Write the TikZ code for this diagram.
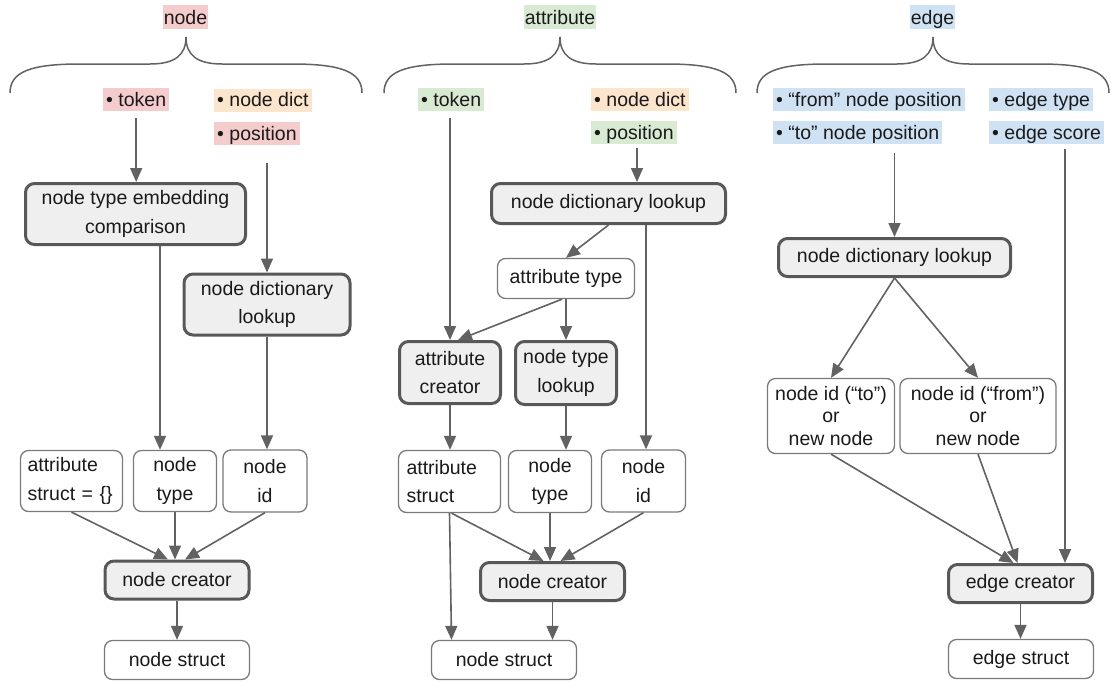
\documentclass[tikz,border=0pt]{standalone}
\usepackage{fontspec}
\setmainfont{Liberation Sans}
\usetikzlibrary{arrows.meta}
\definecolor{linegray}{HTML}{626262}
\definecolor{thinborder}{HTML}{7A7A7A}
\definecolor{boldborder}{HTML}{585858}
\definecolor{boxfill}{HTML}{EFEFEF}
\definecolor{inkblack}{HTML}{1A1A1A}
\definecolor{hlpink}{HTML}{F4CCCC}
\definecolor{hlorange}{HTML}{FCE5CD}
\definecolor{hlgreen}{HTML}{D9EAD3}
\definecolor{hlblue}{HTML}{CFE2F3}
\tikzset{
  title/.style={fill=#1, inner xsep=1pt, inner ysep=2pt, text height=17pt, text depth=3pt},
  tag/.style={fill=#1, anchor=west, inner xsep=3pt, inner ysep=2pt, text height=16pt, text depth=3pt},
  plainbox/.style={draw=thinborder, line width=1.3pt, rounded corners=8pt, fill=white,
    inner sep=0pt, align=center},
  boldbox/.style={draw=boldborder, line width=3pt, rounded corners=9pt, fill=boxfill,
    inner sep=0pt, align=center},
  sz/.style 2 args={minimum width=#1pt, minimum height=#2pt},
  conn/.style={draw=linegray, line width=1.6pt, -{Triangle[length=14pt,width=12pt]}},
  threeline/.style={font=\fontsize{19.5}{22.5}\selectfont},
  curlybrace/.pic={
    \draw[linegray, line width=1.5pt]
      (-176,56) .. controls (-176,35) and (-156,27) .. (-106,27) -- (-36,27)
      .. controls (-11,27) and (0,18) .. (0,0)
      .. controls (0,18) and (11,27) .. (36,27) -- (106,27)
      .. controls (156,27) and (176,35) .. (176,56);
  }
}
\begin{document}
\begin{tikzpicture}[x=1pt, y=-1pt, font=\fontsize{19.5}{28.5}\selectfont, text=inkblack]
\useasboundingbox (0,0) rectangle (1111,681);

% ---------- node column ----------
\node[title=hlpink] (t1) at (185.5,17) {node};
\pic at (186,37) {curlybrace};
\node[tag=hlpink]   (tok1)  at (103,99.5)  {• token};
\node[tag=hlorange] (dict1) at (214,100)   {• node dict};
\node[tag=hlpink]   (pos1)  at (214,133.5) {• position};

\node[boldbox, sz={220}{61}] (emb1) at (135.5,214) {node type embedding\\comparison};
\node[boldbox, sz={166}{61}] (ndl1) at (267,304.5) {node dictionary\\lookup};
\node[plainbox, sz={102}{61}, align=left, text width=88pt] (attr1) at (71.5,481) {attribute\\struct = \{\}};
\node[plainbox, sz={83}{61}] (type1) at (175,481) {node\\type};
\node[plainbox, sz={84}{62}] (id1) at (265,481) {node\\id};
\node[boldbox, sz={144}{38}] (cre1) at (177,580) {node creator};
\node[plainbox, sz={145}{39}] (str1) at (177,660) {node struct};

\coordinate (k1) at (160,0);
\draw[conn, shorten <=7pt] (tok1.south) -- (tok1.south |- emb1.north);
\draw[conn, shorten <=18pt] (pos1.south -| ndl1.north) -- (ndl1.north);
\draw[conn] (emb1.south -| k1) -- (type1.north -| k1);
\draw[conn] (ndl1.south) -- (ndl1.south |- id1.north);
\draw[conn] (attr1.south) -- ([xshift=-9pt]cre1.north);
\draw[conn] (type1.south) -- (type1.south |- cre1.north);
\draw[conn] (id1.south) -- ([xshift=8pt]cre1.north);
\draw[conn] (cre1.south) -- (cre1.south |- str1.north);

% ---------- attribute column ----------
\node[title=hlgreen] (t2) at (560,17) {attribute};
\pic at (560,37) {curlybrace};
\node[tag=hlgreen]  (tok2)  at (418,99.5)  {• token};
\node[tag=hlorange] (dict2) at (591,99.5)  {• node dict};
\node[tag=hlgreen]  (pos2)  at (591,132.5) {• position};

\node[boldbox, sz={234}{40}] (ndl2) at (608.5,203.5) {node dictionary lookup};
\node[plainbox, sz={137}{40}] (atype2) at (566,278.5) {attribute type};
\node[boldbox, sz={101}{62}] (acre2) at (450,372.5) {attribute\\creator};
\node[boldbox, sz={101}{63}] (ntl2) at (566,373) {node type\\lookup};
\node[plainbox, sz={102}{62}, align=left, text width=86pt] (astr2) at (449.5,481.5) {attribute\\struct};
\node[plainbox, sz={83}{62}] (ntype2) at (550,481.5) {node\\type};
\node[plainbox, sz={84}{62}] (nid2) at (643.5,481) {node\\id};
\node[boldbox, sz={144}{38}] (ncre2) at (552.5,581.5) {node creator};
\node[plainbox, sz={145}{39}] (nstr2) at (504,660) {node struct};

\coordinate (k2) at (637,0);
\coordinate (k3) at (646,0);
\draw[conn, shorten <=7pt] (tok2.south -| acre2.north) -- (acre2.north);
\draw[conn, shorten <=4pt] (pos2.south -| k2) -- (ndl2.north -| k2);
\draw[conn] (ndl2.south) -- (atype2.north);
\draw[conn] (ndl2.south -| k3) -- (nid2.north -| k3);
\draw[conn] (atype2.south) -- (atype2.south |- ntl2.north);
\draw[conn] ([xshift=-4pt]atype2.south) -- ([xshift=8pt]acre2.north);
\draw[conn] (acre2.south) -- (acre2.south |- astr2.north);
\draw[conn] (ntl2.south) -- (ntl2.south |- ntype2.north);
\draw[conn] (astr2.south) -- ([xshift=2pt]astr2.south |- nstr2.north);
\draw[conn] ([xshift=2pt]astr2.south) -- ([xshift=-9pt]ncre2.north);
\draw[conn] (ntype2.south) -- (ntype2.south |- ncre2.north);
\draw[conn] (nid2.south) -- ([xshift=8pt]ncre2.north);
\draw[conn] (ncre2.south) -- (ncre2.south |- nstr2.north);

% ---------- edge column ----------
\node[title=hlblue] (t3) at (932.5,17) {edge};
\pic at (933,37) {curlybrace};
\node[tag=hlblue] (from3)   at (773,99.5)  {• “from” node position};
\node[tag=hlblue] (to3)     at (773,132.5) {• “to” node position};
\node[tag=hlblue] (etype3)  at (989,99.5)  {• edge type};
\node[tag=hlblue] (escore3) at (989,132.5) {• edge score};

\node[boldbox, sz={232}{38}] (ndl3) at (894.5,257.5) {node dictionary lookup};
\node[plainbox, sz={127}{75}, threeline] (idto3) at (831,416) {node id (“to”)\\or\\new node};
\node[plainbox, sz={156}{75}, threeline] (idfr3) at (978,416) {node id (“from”)\\or\\new node};
\node[boldbox, sz={144}{38}] (ecre3) at (1020.5,583.5) {edge creator};
\node[plainbox, sz={145}{39}] (estr3) at (1021,659) {edge struct};

\coordinate (k4) at (1065,0);
\draw[conn, shorten <=9pt] (to3.south -| ndl3.north) -- (ndl3.north);
\draw[conn, shorten <=5pt] (escore3.south -| k4) -- (ecre3.north -| k4);
\draw[conn] (ndl3.south) -- (idto3.north);
\draw[conn] (ndl3.south) -- (idfr3.north);
\draw[conn] (idto3.south) -- ([xshift=-7pt]ecre3.north);
\draw[conn] (idfr3.south) -- ([xshift=-3pt]ecre3.north);
\draw[conn] (ecre3.south) -- (ecre3.south |- estr3.north);
\end{tikzpicture}
\end{document}
